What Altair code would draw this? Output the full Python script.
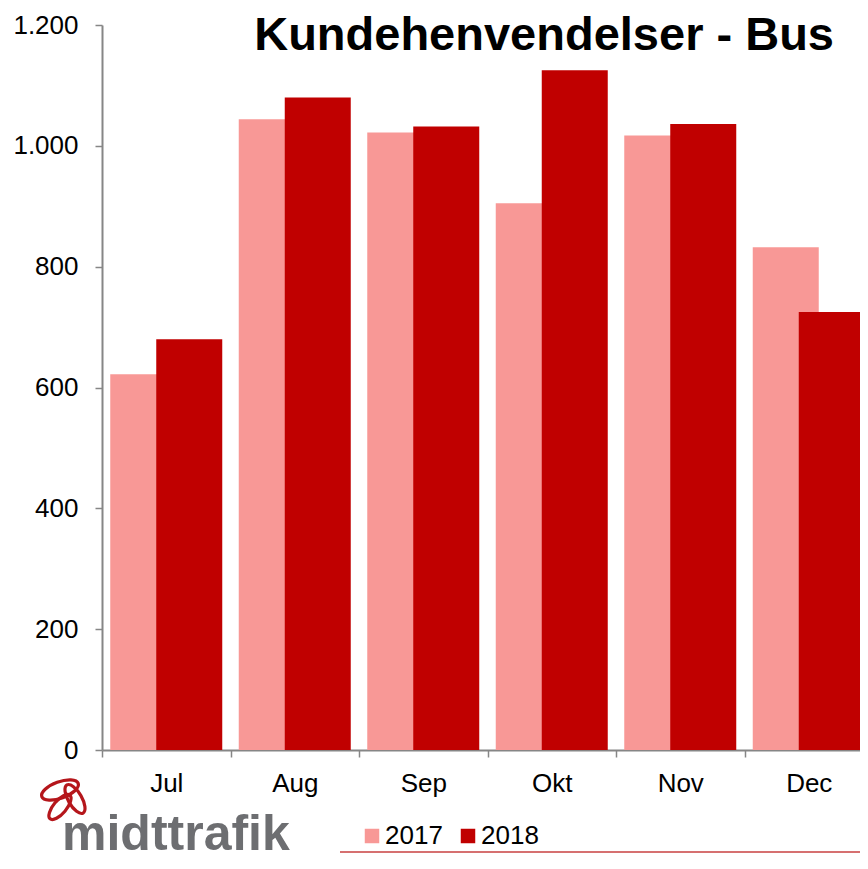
import altair as alt
import pandas as pd

months = ["Jul", "Aug", "Sep", "Okt", "Nov", "Dec"]
v2017 = [622, 1044, 1022, 905, 1017, 832]
v2018 = [680, 1080, 1032, 1125, 1036, 725]
years = ["2017", "2018"]
colors = ["#F89896", "#C00000"]
y_ticks = [0, 200, 400, 600, 800, 1000, 1200]
title_text = "Kundehenvendelser - Bus"
logo_text = "midttrafik"

rows = []
for m, a, b in zip(months, v2017, v2018):
    rows.append({"month": m, "year": "2017", "value": a})
    rows.append({"month": m, "year": "2018", "value": b})
df = pd.DataFrame(rows)

FONT = "Liberation Sans"
GRAY = "#868686"

x_enc = alt.X(
    "month:N",
    sort=months,
    scale=alt.Scale(domain=months, range=[0, 771], paddingInner=0, paddingOuter=0),
    axis=alt.Axis(title=None, labelAngle=0, tickBand="extent", tickSize=7,
                  domainColor=GRAY, tickColor=GRAY, domainWidth=2, tickWidth=1.5,
                  labelFontSize=26, labelPadding=13, labelColor="black", labelFont=FONT),
)
y_enc = alt.Y(
    "value:Q",
    scale=alt.Scale(domain=[0, 1200], nice=False),
    axis=alt.Axis(title=None, values=y_ticks, grid=False, tickSize=7,
                  domainColor=GRAY, tickColor=GRAY, domainWidth=2, tickWidth=1.5,
                  labelFontSize=26, labelPadding=17, labelColor="black", labelFont=FONT,
                  labelExpr="replace(format(datum.value, ','), ',', '.')"),
)
color_enc = alt.Color(
    "year:N",
    scale=alt.Scale(domain=years, range=colors),
    legend=alt.Legend(title=None, orient="none", direction="horizontal",
                      legendX=257, legendY=798, symbolType="square", symbolSize=210,
                      symbolStrokeWidth=0, labelFontSize=26, labelFont=FONT,
                      labelColor="black", labelOffset=0, columnPadding=12, padding=0),
)

base = alt.Chart(df).encode(x=x_enc, y=y_enc, color=color_enc)
b17 = base.transform_filter(alt.FieldEqualPredicate(field="year", equal="2017")).mark_bar(width=66, xOffset=-23)
b18 = base.transform_filter(alt.FieldEqualPredicate(field="year", equal="2018")).mark_bar(width=66, xOffset=23)

one = pd.DataFrame({"t": [title_text], "l": [logo_text]})
title = alt.Chart(one).mark_text(font=FONT, fontSize=47, fontWeight="bold", align="right",
                                 baseline="alphabetic", color="black").encode(
    text="t:N", x=alt.value(732), y=alt.value(25))
logo = alt.Chart(one).mark_text(font=FONT, fontSize=50, fontWeight="bold", align="left",
                                baseline="alphabetic", color="#6D6E71").encode(
    text="l:N", x=alt.value(-40), y=alt.value(825))
line = alt.Chart(one).mark_rule(color="#C84040", strokeWidth=1.5).encode(
    x=alt.value(238), x2=alt.value(770), y=alt.value(827))

ellipse = "M -1 0 A 1 0.42 0 1 1 1 0 A 1 0.42 0 1 1 -1 0 Z"
knots = []
for kx, ky, ang, sz in [(-42, 765, 340, 1500), (-27, 774, 60, 1050), (-42, 782, 130, 950)]:
    knots.append(alt.Chart(one).mark_point(shape=ellipse, filled=False, strokeWidth=3.2,
                                           color="#B5161B", angle=ang, size=sz, opacity=1).encode(
        x=alt.value(kx), y=alt.value(ky)))

chart = alt.layer(b17, b18, title, logo, line, *knots).properties(
    width=758, height=725,
    autosize=alt.AutoSizeParams(type="none"),
    padding={"left": 94, "top": 17, "right": 0, "bottom": 111},
).configure_view(stroke=None)

chart.save("out.html", embed_options={"renderer": "svg", "actions": False})
